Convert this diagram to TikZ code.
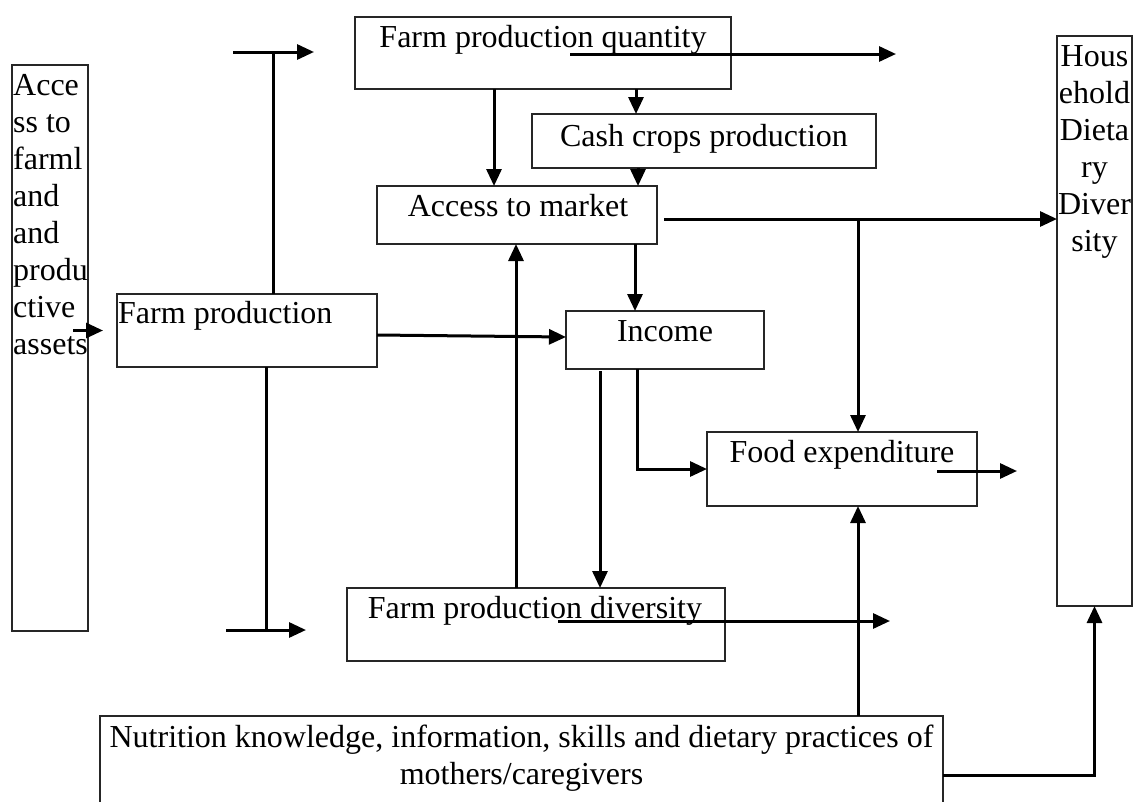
\documentclass[tikz,border=0pt]{standalone}
\usepackage{fontspec}
\setmainfont{Liberation Serif}
\usetikzlibrary{arrows.meta}
\begin{document}
\begin{tikzpicture}[x=1pt,y=-1pt,
  box/.style={draw=black!85,line width=1.3pt,rectangle,inner sep=0pt,outer sep=0pt,anchor=north west},
  txt/.style={inner sep=0pt,font=\fontsize{32}{37}\selectfont},
  conn/.style={line width=3pt},
  arr/.style={conn,-{Triangle[length=17pt,width=15pt]}}]
\useasboundingbox (0,0) rectangle (1133,801);
\clip (0,0) rectangle (1133,801);
% boxes
\node[box,minimum width=76pt,minimum height=566pt] (acc) at (12,65) {};
\node[box,minimum width=260pt,minimum height=73pt] (fp) at (117,294) {};
\node[box,minimum width=376pt,minimum height=72pt] (fpq) at (355,17) {};
\node[box,minimum width=344pt,minimum height=54pt] (ccp) at (532,114) {};
\node[box,minimum width=280pt,minimum height=58pt] (atm) at (377,186) {};
\node[box,minimum width=198pt,minimum height=58pt] (inc) at (566,311) {};
\node[box,minimum width=270pt,minimum height=74pt] (fe) at (707,432) {};
\node[box,minimum width=378pt,minimum height=73pt] (fpd) at (347,588) {};
\node[box,minimum width=75pt,minimum height=570pt] (hdd) at (1057,36) {};
\node[box,minimum width=843pt,minimum height=120pt] (nut) at (100,716) {};
% texts
\node[txt,anchor=north west,align=left] (acct) at (13,69) {\strut Acce\\ss to\\farml\\and\\and\\produ\\ctive\\assets};
\node[txt,anchor=base west] (fpt) at (118,323) {Farm production};
\node[txt,anchor=base] (fpqt) at (543,47) {Farm production quantity};
\node[txt,anchor=base] (ccpt) at (704,146) {Cash crops production};
\node[txt,anchor=base] (atmt) at (518,216) {Access to market};
\node[txt,anchor=base] (inct) at (665,341) {Income};
\node[txt,anchor=base] (fet) at (842,462) {Food expenditure};
\node[txt,anchor=base] (fpdt) at (535,618) {Farm production diversity};
\node[txt,anchor=north,align=center] (hddt) at (1094.5,40) {\strut Hous\\ehold\\Dieta\\ry\\Diver\\sity};
\node[txt,anchor=north,align=center] (nutt) at (521.5,721) {\strut Nutrition knowledge, information, skills and dietary practices of\\mothers/caregivers};
% free ends
\coordinate (tl) at (233,52);
\coordinate (tr) at (314,52);
\coordinate (bl) at (226,630);
\coordinate (br) at (306,630);
\coordinate (fpT) at ([xshift=156pt]fp.north west);
\coordinate (fpB) at ([xshift=149pt]fp.south west);
\coordinate (qs) at ([shift={(215pt,-37pt)}]fpq.north west);
\coordinate (qe) at (896,54);
\coordinate (ds) at ([shift={(211pt,-33pt)}]fpd.north west);
\coordinate (de) at (890,621);
\coordinate (es) at ([shift={(230pt,-39pt)}]fe.north west);
\coordinate (ee) at (1017,471);
\coordinate (m1) at ([shift={(7pt,-4pt)}]atm.east);
\coordinate (feN) at ([xshift=151pt]fe.north west);
\coordinate (feS) at ([xshift=151pt]fe.south west);
% connectors
\draw[arr] ([xshift=-44pt]fp.west) -- ([xshift=-14pt]fp.west);
\draw[conn] (fpT) -- (fpT |- tl);
\draw[arr] (tl) -- (tr);
\draw[conn] (fpB) -- (fpB |- bl);
\draw[arr] (bl) -- (br);
\draw[arr] (qs) -- (qe);
\draw[arr] ([xshift=139pt]fpq.south west) -- ([xshift=117pt]atm.north west);
\draw[arr] ([xshift=281pt]fpq.south west) -- ([xshift=104pt]ccp.north west);
\draw[arr] ([xshift=106pt]ccp.south west) -- ([xshift=261pt]atm.north west);
\draw[arr] (m1) -- (m1 -| hdd.west);
\draw[arr] (m1 -| feN) -- (feN);
\draw[arr] ([xshift=258pt]atm.south west) -- ([xshift=69pt]inc.north west);
\draw[arr] ([yshift=-41pt]fp.north east) -- ([yshift=-26pt]inc.north west);
\draw[arr] ([xshift=169pt]fpd.north west) -- ([xshift=139pt]atm.south west);
\draw[arr] ([shift={(34pt,-2pt)}]inc.south west) -- ([xshift=253pt]fpd.north west);
\draw[arr] ([xshift=71pt]inc.south west) |- ([yshift=-37pt]fe.north west);
\draw[arr] (es) -- (ee);
\draw[arr] (ds) -- (de);
\draw[arr] (nut.north -| feS) -- (feS);
\draw[arr] ([yshift=-59pt]nut.north east) -| (hdd.south);
\end{tikzpicture}
\end{document}
